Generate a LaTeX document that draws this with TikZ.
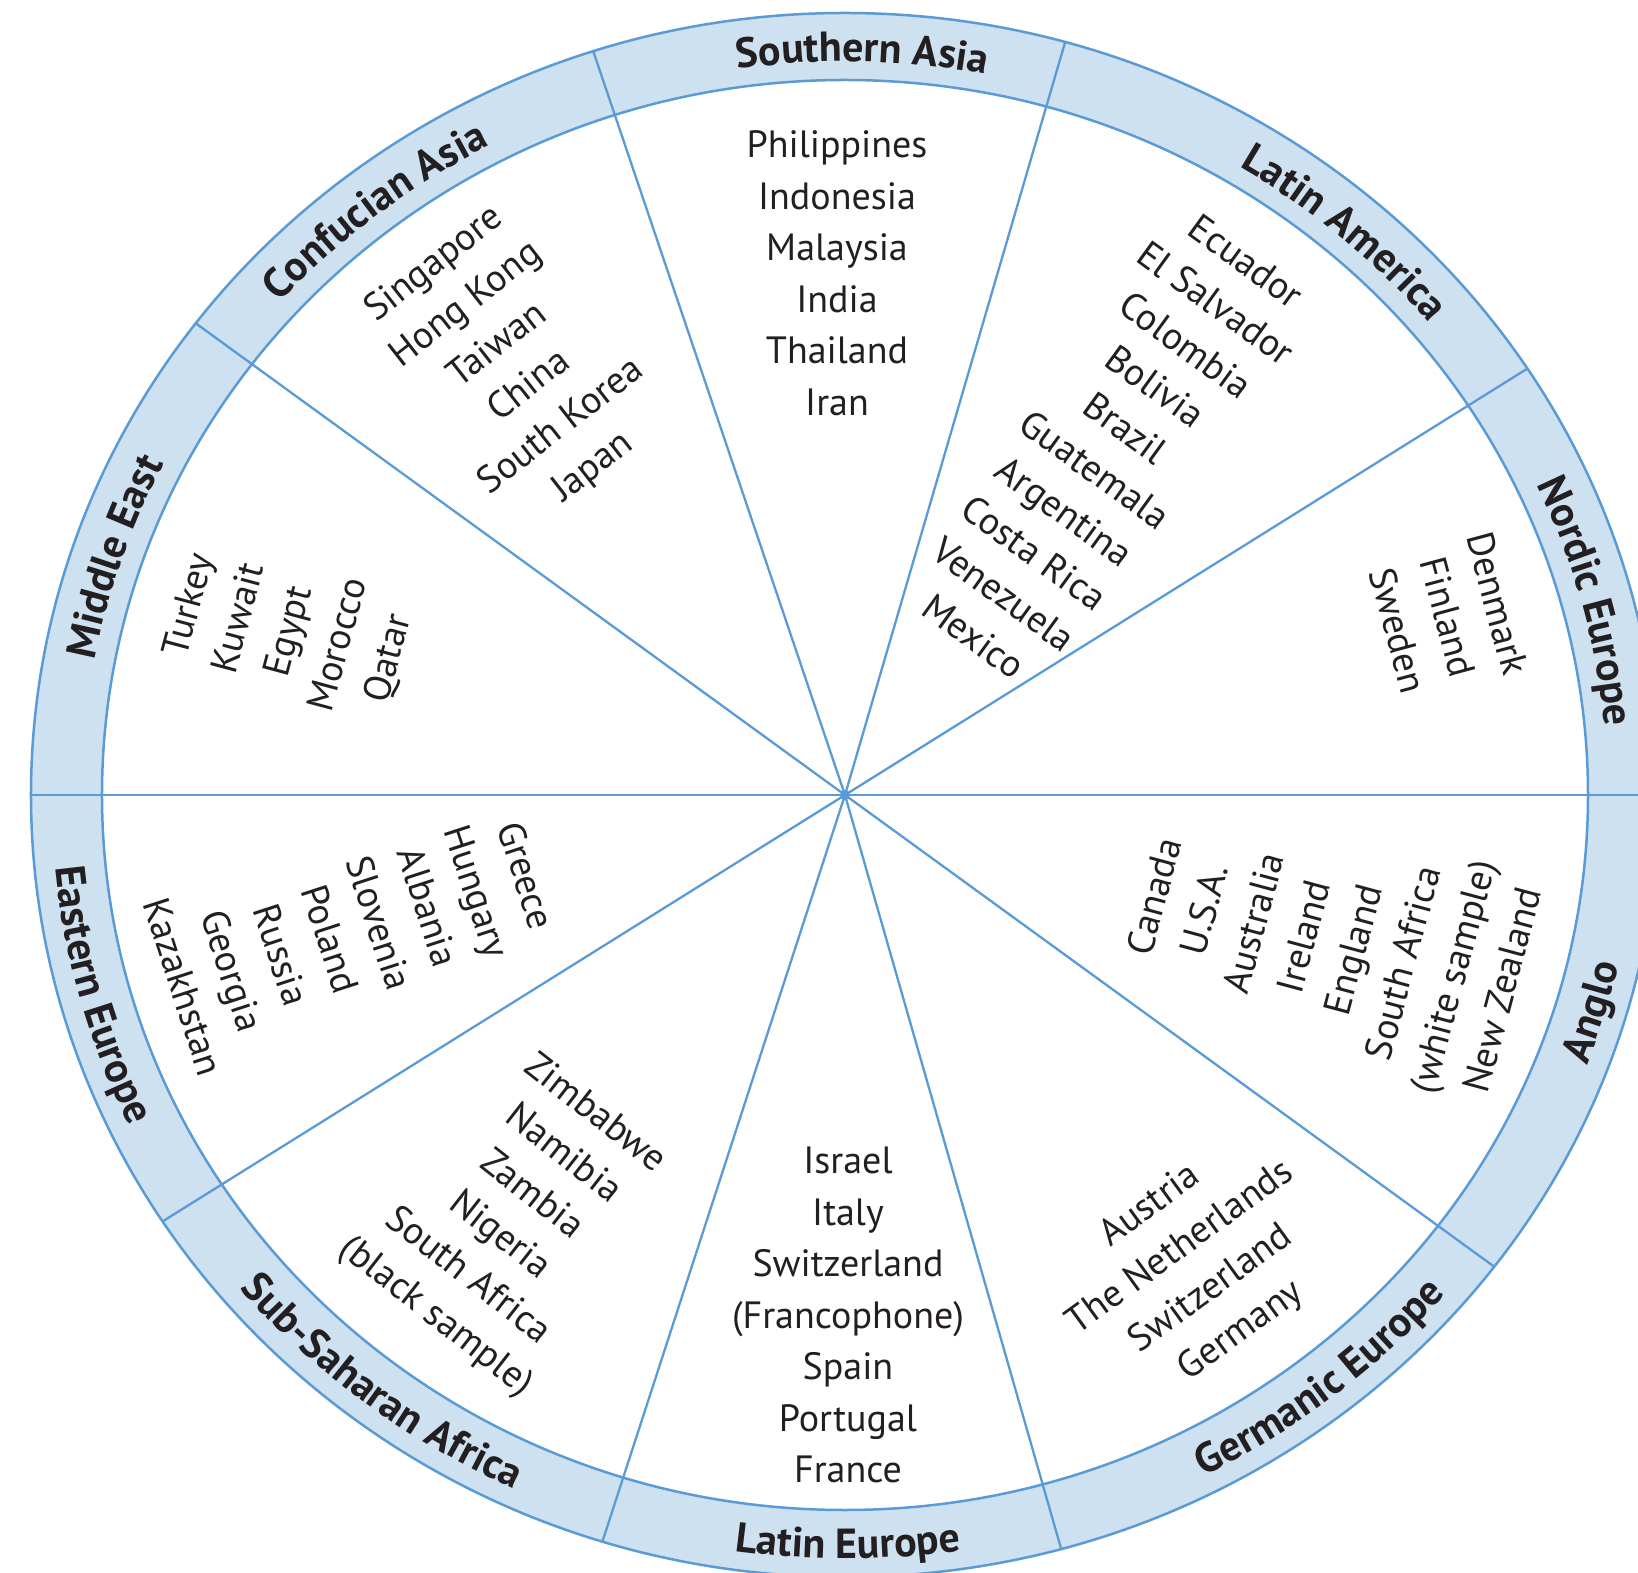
\documentclass[tikz,border=0pt]{standalone}
\usepackage{fontspec}
\setmainfont{PT Sans}
\usetikzlibrary{decorations.text}
\definecolor{ringblue}{HTML}{5B9BD5}
\definecolor{bandfill}{HTML}{CDE1F1}
\definecolor{txt}{HTML}{231F20}
\newcommand\ctryfont{\fontsize{38}{51.5}\selectfont}
\newcommand\bandfont{\fontsize{42}{42}\selectfont\bfseries}
\begin{document}
\begin{tikzpicture}[x=1pt,y=1pt,
  country/.style={font=\ctryfont, text=txt, align=center, inner sep=0pt},
  divider/.style={draw=ringblue, line width=2.3pt},
  ring/.style={draw=ringblue, line width=2.5pt},
  bandlabel/.style={decorate, decoration={text along path, text={|\bandfont|#1}, text align=center, text color=txt}}
]
\useasboundingbox (-845,-778) rectangle (793,795);
\fill[white] (-845,-778) rectangle (793,795);
\coordinate (c) at (0,0);
\fill[bandfill] (c) ellipse [x radius=814, y radius=782];
\fill[white] (c) ellipse [x radius=743, y radius=715];
\begin{scope}
  \clip (c) ellipse [x radius=814, y radius=782];
  \foreach \a in {0,32,73.7,108.7,144,180,212,252,286,324}
    \draw[divider] (c) -- (\a:1200);
\end{scope}
\draw[ring] (c) ellipse [x radius=814, y radius=782];
\draw[ring] (c) ellipse [x radius=743, y radius=715];
\fill[ringblue] (c) circle (5);

% band labels, tops outward (clockwise paths)
\path[bandlabel={Southern Asia}] (113.7:763.5 and 733.5) arc[start angle=113.7, end angle=63.7, x radius=763.5, y radius=733.5];
\path[bandlabel={Latin America}] (74.3:763.5 and 733.5) arc[start angle=74.3, end angle=24.3, x radius=763.5, y radius=733.5];
\path[bandlabel={Nordic Europe}] (40.1:763.5 and 733.5) arc[start angle=40.1, end angle=-9.9, x radius=763.5, y radius=733.5];
\path[bandlabel={Confucian Asia}] (152.9:763.5 and 733.5) arc[start angle=152.9, end angle=102.9, x radius=763.5, y radius=733.5];
\path[bandlabel={Middle East}] (186.4:763.5 and 733.5) arc[start angle=186.4, end angle=136.4, x radius=763.5, y radius=733.5];
% band labels, tops inward (counter-clockwise paths)
\path[bandlabel={Anglo}] (-41.7:793.5 and 763.5) arc[start angle=-41.7, end angle=8.3, x radius=793.5, y radius=763.5];
\path[bandlabel={Germanic Europe}] (-76.8:793.5 and 763.5) arc[start angle=-76.8, end angle=-26.8, x radius=793.5, y radius=763.5];
\path[bandlabel={Latin Europe}] (-114.8:793.5 and 763.5) arc[start angle=-114.8, end angle=-64.8, x radius=793.5, y radius=763.5];
\path[bandlabel={Sub-Saharan Africa}] (-152.3:793.5 and 763.5) arc[start angle=-152.3, end angle=-102.3, x radius=793.5, y radius=763.5];
\path[bandlabel={Eastern Europe}] (170.5:793.5 and 763.5) arc[start angle=170.5, end angle=220.5, x radius=793.5, y radius=763.5];

% country lists
\node[country] (sa) at (-8,522) {Philippines\\Indonesia\\Malaysia\\India\\Thailand\\Iran};
\node[country, rotate=-36] (la) at (265,346) {Ecuador\\El Salvador\\Colombia\\Bolivia\\Brazil\\Guatemala\\Argentina\\Costa Rica\\Venezuela\\Mexico};
\node[country, rotate=-75] (ne) at (603,178) {Denmark\\Finland\\Sweden};
\node[country, rotate=75] (an) at (483,-148) {Canada\\U.S.A.\\Australia\\Ireland\\England\\South Africa\\(white sample)\\New Zealand};
\node[country, rotate=36] (ge) at (351,-474) {Austria\\The Netherlands\\Switzerland\\Germany};
\node[country] (le) at (3,-520) {Israel\\Italy\\Switzerland\\(Francophone)\\Spain\\Portugal\\France};
\node[country, rotate=-38] (ss) at (-330,-421) {Zimbabwe\\Namibia\\Zambia\\Nigeria\\South Africa\\(black sample)};
\node[country, rotate=-72] (ee) at (-490,-136) {Greece\\Hungary\\Albania\\Slovenia\\Poland\\Russia\\Georgia\\Kazakhstan};
\node[country, rotate=75] (me) at (-555,163) {Turkey\\Kuwait\\Egypt\\Morocco\\Qatar};
\node[country, rotate=38] (ca) at (-331,429) {Singapore\\Hong Kong\\Taiwan\\China\\South Korea\\Japan};
\end{tikzpicture}
\end{document}
